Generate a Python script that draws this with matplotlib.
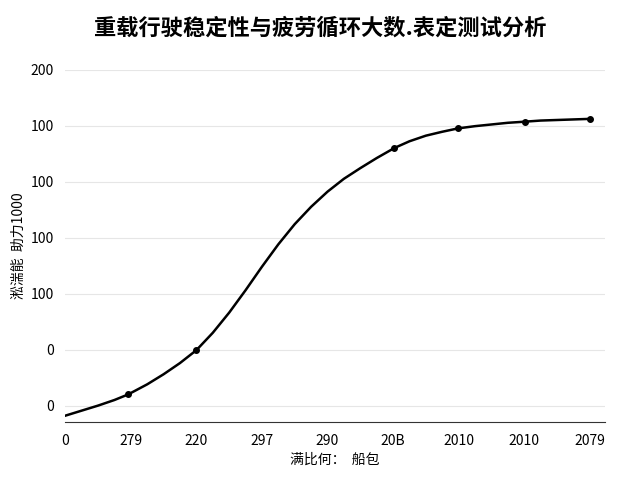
import numpy as np
import matplotlib.pyplot as plt

plt.rcParams['font.family'] = ['Noto Sans CJK SC', 'DejaVu Sans']

title = "重载行驶稳定性与疲劳循环大数.表定测试分析"
x_label = "满比何：  船包"
y_label = "淞湍能  助力1000"
x_tick_labels = ["0", "279", "220", "297", "290", "20B", "2010", "2010", "2079"]
y_tick_labels = ["0", "0", "100", "100", "100", "100", "200"]

# curve (x in tick steps, y in tick steps)
curve_x = [0.0, 0.25, 0.5, 0.75, 0.96, 1.25, 1.5, 1.75, 2.0, 2.25, 2.5, 2.75, 3.0,
           3.25, 3.5, 3.75, 4.0, 4.25, 4.5, 4.75, 5.02, 5.25, 5.5, 5.75, 5.99,
           6.25, 6.5, 6.75, 7.01, 7.25, 7.5, 7.75, 8.0]
curve_y = [-0.18, -0.09, 0.0, 0.1, 0.2, 0.38, 0.56, 0.76, 0.99, 1.30, 1.66, 2.06, 2.48,
           2.88, 3.24, 3.55, 3.82, 4.05, 4.24, 4.42, 4.60, 4.72, 4.82, 4.89, 4.95,
           4.99, 5.02, 5.05, 5.07, 5.09, 5.10, 5.11, 5.12]
marker_x = [0.96, 2.0, 5.02, 5.99, 7.01, 8.0]
marker_y = [0.2, 0.99, 4.60, 4.95, 5.07, 5.12]

fig, ax = plt.subplots(figsize=(6.4, 4.8), dpi=100)
fig.subplots_adjust(left=0.102, right=0.945, top=0.855, bottom=0.12)

ax.plot(curve_x, curve_y, color='black', linewidth=1.8, solid_joinstyle='round')
ax.plot(marker_x, marker_y, 'o', color='black', markersize=4)

ax.set_xlim(0, 8.23)
ax.set_ylim(-0.3, 6)
ax.set_xticks(range(len(x_tick_labels)))
ax.set_xticklabels(x_tick_labels, fontsize=10)
ax.set_yticks(range(len(y_tick_labels)))
ax.set_yticklabels(y_tick_labels, fontsize=10)
ax.tick_params(length=0, pad=8)
ax.grid(axis='y', color='#e6e6e6', linewidth=0.8)
for s in ['top', 'right', 'left']:
    ax.spines[s].set_visible(False)
ax.spines['bottom'].set_color('#333333')

ax.set_xlabel(x_label, fontsize=10)
ax.set_ylabel(y_label, fontsize=10)
fig.suptitle(title, fontsize=16, fontweight='bold', x=0.5, y=0.965)

plt.savefig("out.png", dpi=100)
